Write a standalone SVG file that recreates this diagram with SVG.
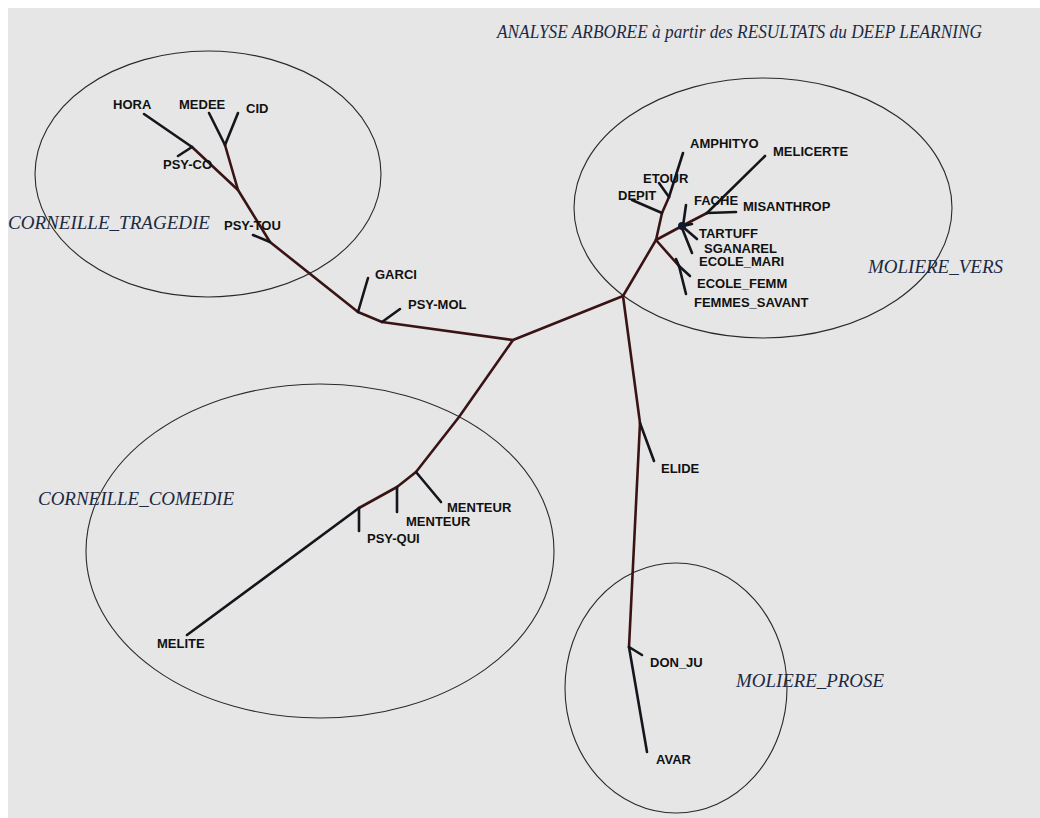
<svg xmlns="http://www.w3.org/2000/svg" width="1040" height="818" viewBox="0 0 1040 818">
<style>
.bg{fill:#e6e6e6}
.grp{fill:none;stroke:#2a2a2a;stroke-width:1.1}
.int{fill:none;stroke:#3a1414;stroke-width:2.6;stroke-linecap:round;stroke-linejoin:round}
.leaf{fill:none;stroke:#15161c;stroke-width:2.6;stroke-linecap:round}
.lbl{font-family:"Liberation Sans",Arial,sans-serif;font-size:13px;font-weight:bold;fill:#111}
.cl{font-family:"Liberation Serif","Times New Roman",serif;font-style:italic;font-size:19px;fill:#1c2a44}
</style>
<rect width="1040" height="818" fill="#ffffff"/>
<rect class="bg" x="8" y="8" width="1032" height="810"/>

<text class="cl" x="497" y="38" textLength="485" lengthAdjust="spacingAndGlyphs">ANALYSE ARBOREE à partir des RESULTATS du DEEP LEARNING</text>

<g id="groups">
<g id="corneille-tragedie"><ellipse class="grp" cx="208" cy="174" rx="173" ry="123"/><text class="cl" x="8" y="229" textLength="202" lengthAdjust="spacingAndGlyphs">CORNEILLE_TRAGEDIE</text></g>
<g id="moliere-vers"><ellipse class="grp" cx="763" cy="208" rx="189" ry="130"/><text class="cl" x="868" y="273" textLength="135" lengthAdjust="spacingAndGlyphs">MOLIERE_VERS</text></g>
<g id="corneille-comedie"><ellipse class="grp" cx="320" cy="551" rx="234" ry="167"/><text class="cl" x="38" y="505" textLength="196" lengthAdjust="spacingAndGlyphs">CORNEILLE_COMEDIE</text></g>
<g id="moliere-prose"><ellipse class="grp" cx="676" cy="688" rx="111" ry="125"/><text class="cl" x="736" y="687" textLength="148" lengthAdjust="spacingAndGlyphs">MOLIERE_PROSE</text></g>
</g>

<g id="connectors">
<polyline class="int" points="623,296 513,340 382,322 358,312 270,242 238,190 192,147"/>
<line class="int" x1="238" y1="190" x2="225" y2="145"/>
<polyline class="int" points="513,340 459,417 416,472 397,487 359,508"/>
<polyline class="int" points="623,296 640,423 629,647"/>
<polyline class="int" points="623,296 656,240 662,213 669,197"/>
<polyline class="int" points="656,240 682,226 707,213"/>
<line class="int" x1="656" y1="240" x2="679" y2="266"/>
</g>

<g id="n-hora"><line class="leaf" x1="192" y1="147" x2="144" y2="114"/><text class="lbl" x="113" y="109">HORA</text></g>
<g id="n-psy-co"><line class="leaf" x1="192" y1="147" x2="178" y2="156"/><text class="lbl" x="163" y="169">PSY-CO</text></g>
<g id="n-medee"><line class="leaf" x1="225" y1="145" x2="209" y2="113"/><text class="lbl" x="179" y="109">MEDEE</text></g>
<g id="n-cid"><line class="leaf" x1="225" y1="145" x2="238" y2="113"/><text class="lbl" x="246" y="113">CID</text></g>
<g id="n-psy-tou"><line class="leaf" x1="270" y1="242" x2="253" y2="235"/><text class="lbl" x="224" y="230">PSY-TOU</text></g>
<g id="n-garci"><line class="leaf" x1="358" y1="312" x2="368" y2="278"/><text class="lbl" x="375" y="279">GARCI</text></g>
<g id="n-psy-mol"><line class="leaf" x1="382" y1="322" x2="400" y2="309"/><text class="lbl" x="408" y="309">PSY-MOL</text></g>

<g id="n-menteur-1"><line class="leaf" x1="416" y1="472" x2="441" y2="502"/><text class="lbl" x="447" y="512">MENTEUR</text></g>
<g id="n-menteur-2"><line class="leaf" x1="397" y1="487" x2="397" y2="512"/><text class="lbl" x="406" y="526">MENTEUR</text></g>
<g id="n-psy-qui"><line class="leaf" x1="359" y1="508" x2="359" y2="531"/><text class="lbl" x="367" y="543">PSY-QUI</text></g>
<g id="n-melite"><line class="leaf" x1="359" y1="508" x2="187" y2="635"/><text class="lbl" x="157" y="648">MELITE</text></g>

<g id="n-elide"><line class="leaf" x1="640" y1="423" x2="654" y2="461"/><text class="lbl" x="661" y="473">ELIDE</text></g>
<g id="n-don-ju"><line class="leaf" x1="629" y1="647" x2="642" y2="655"/><text class="lbl" x="650" y="667">DON_JU</text></g>
<g id="n-avar"><line class="leaf" x1="629" y1="647" x2="647" y2="752"/><text class="lbl" x="656" y="764">AVAR</text></g>

<g id="n-amphityo"><line class="leaf" x1="669" y1="197" x2="683" y2="153"/><text class="lbl" x="690" y="148">AMPHITYO</text></g>
<g id="n-etour"><line class="leaf" x1="669" y1="197" x2="659" y2="183"/><text class="lbl" x="643" y="183">ETOUR</text></g>
<g id="n-depit"><line class="leaf" x1="662" y1="213" x2="632" y2="200"/><text class="lbl" x="618" y="200">DEPIT</text></g>
<g id="n-melicerte"><line class="leaf" x1="707" y1="213" x2="765" y2="156"/><text class="lbl" x="773" y="156">MELICERTE</text></g>
<g id="n-misanthrop"><line class="leaf" x1="707" y1="213" x2="736" y2="212"/><text class="lbl" x="743" y="211">MISANTHROP</text></g>
<g id="n-fache"><line class="leaf" x1="683" y1="226" x2="686" y2="205"/><text class="lbl" x="694" y="205">FACHE</text></g>
<g id="n-tartuff"><line class="leaf" x1="683" y1="227" x2="697" y2="239"/><line class="leaf" x1="683" y1="226" x2="692" y2="224"/><text class="lbl" x="699" y="238">TARTUFF</text></g>
<g id="n-sganarel"><line class="leaf" x1="682" y1="228" x2="692" y2="253"/><text class="lbl" x="704" y="253">SGANAREL</text></g>
<g id="n-ecole-mari"><line class="leaf" x1="679" y1="266" x2="676" y2="259"/><text class="lbl" x="699" y="266">ECOLE_MARI</text></g>
<g id="n-ecole-femm"><line class="leaf" x1="679" y1="266" x2="690" y2="276"/><text class="lbl" x="697" y="288">ECOLE_FEMM</text></g>
<g id="n-femmes-savant"><line class="leaf" x1="679" y1="266" x2="686" y2="294"/><text class="lbl" x="694" y="307">FEMMES_SAVANT</text></g>
<g id="n-star"><circle cx="682" cy="226" r="4" fill="#121a30"/></g>
</svg>
